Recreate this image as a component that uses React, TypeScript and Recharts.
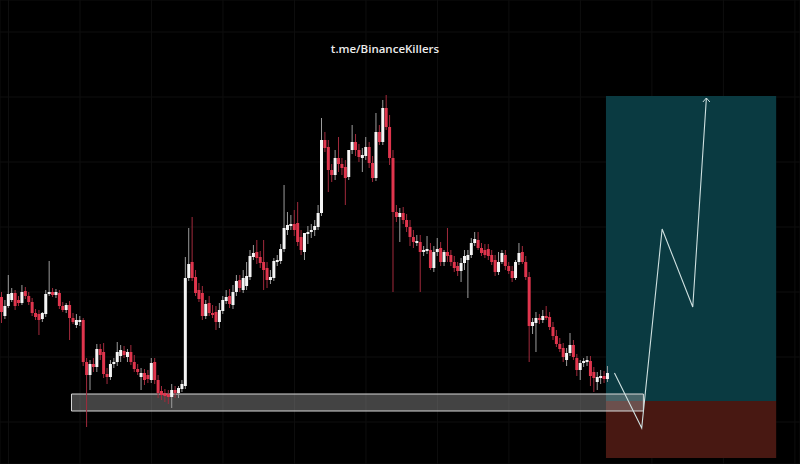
import {
  Bar,
  CartesianGrid,
  ComposedChart,
  Line,
  ReferenceArea,
  XAxis,
  YAxis,
} from "recharts";

// candle prices (arbitrary price units), one entry per bar
const opens = [
  167, 148, 158, 164, 171, 164, 161, 173, 168, 162, 151, 150, 145, 150, 170, 172, 169, 171, 158, 154,
  159, 146, 139, 142, 144, 102, 89, 100, 97, 115, 112, 90, 87, 100, 102, 108, 113, 107, 112, 102,
  95, 87, 91, 89, 84, 102, 84, 73, 71, 70, 67, 74, 71, 75, 78, 186, 202, 187, 174, 171,
  148, 161, 151, 152, 142, 153, 163, 168, 159, 172, 184, 174, 178, 187, 207, 212, 207, 202, 196, 184,
  186, 202, 203, 215, 234, 238, 240, 241, 227, 212, 230, 232, 234, 237, 251, 324, 317, 294, 289, 306,
  300, 297, 287, 314, 322, 314, 306, 308, 317, 301, 286, 332, 322, 356, 337, 306, 252, 247, 251, 244,
  237, 227, 221, 222, 212, 213, 214, 196, 212, 216, 202, 212, 209, 202, 198, 193, 201, 204, 209, 221,
  224, 216, 214, 215, 209, 204, 192, 202, 209, 198, 193, 186, 202, 212, 202, 187, 138, 141, 146, 144,
  148, 147, 137, 128, 120, 116, 104, 111, 119, 106, 94, 101, 102, 103, 92, 82, 86, 88, 85,
];
const highs = [
  172, 164, 189, 176, 174, 168, 179, 177, 172, 166, 155, 154, 152, 174, 203, 176, 175, 174, 162, 161,
  163, 151, 150, 148, 146, 106, 104, 106, 120, 120, 121, 96, 104, 106, 122, 119, 118, 115, 119, 109,
  100, 96, 95, 94, 106, 106, 89, 78, 75, 74, 80, 78, 78, 84, 207, 236, 247, 194, 181, 178,
  164, 168, 159, 158, 161, 168, 174, 175, 179, 189, 189, 194, 202, 214, 219, 224, 213, 224, 202, 194,
  206, 209, 220, 279, 252, 249, 254, 262, 234, 224, 238, 240, 244, 259, 346, 332, 324, 300, 314, 327,
  306, 304, 314, 339, 330, 320, 316, 327, 322, 308, 351, 339, 364, 369, 349, 314, 259, 256, 257, 250,
  244, 234, 229, 229, 218, 228, 221, 218, 226, 222, 214, 236, 214, 208, 202, 206, 214, 214, 226, 232,
  232, 221, 220, 220, 214, 209, 212, 214, 214, 202, 198, 204, 221, 218, 208, 192, 146, 152, 150, 154,
  158, 152, 142, 134, 126, 121, 116, 131, 124, 110, 104, 106, 108, 108, 97, 92, 94, 93, 98,
];
const lows = [
  141, 145, 156, 162, 154, 158, 159, 165, 159, 148, 144, 129, 142, 147, 168, 167, 166, 155, 152, 151,
  124, 140, 136, 138, 98, 37, 74, 92, 92, 104, 86, 80, 84, 96, 98, 102, 106, 102, 99, 92,
  89, 74, 79, 81, 81, 80, 66, 64, 62, 60, 56, 66, 66, 72, 75, 183, 183, 168, 162, 144,
  145, 148, 146, 134, 136, 150, 160, 156, 155, 168, 172, 171, 174, 184, 204, 200, 196, 174, 176, 180,
  183, 198, 200, 212, 229, 234, 228, 218, 209, 204, 220, 226, 228, 234, 248, 312, 272, 282, 284, 292,
  289, 259, 284, 310, 308, 302, 292, 304, 296, 282, 283, 319, 319, 334, 299, 172, 242, 222, 240, 232,
  218, 216, 218, 172, 208, 210, 194, 192, 208, 198, 198, 202, 198, 192, 188, 182, 194, 166, 206, 218,
  214, 208, 206, 204, 199, 188, 189, 200, 194, 190, 182, 184, 199, 200, 184, 102, 130, 112, 140, 141,
  144, 134, 124, 117, 112, 102, 98, 108, 104, 88, 84, 97, 98, 78, 72, 74, 80, 81, 82,
];
const closes = [
  152, 158, 170, 171, 158, 161, 172, 168, 162, 151, 147, 144, 151, 170, 172, 169, 172, 158, 154, 159,
  146, 142, 144, 144, 102, 89, 100, 97, 115, 109, 90, 87, 100, 102, 112, 114, 109, 112, 102, 95,
  92, 91, 84, 85, 101, 84, 71, 69, 68, 67, 74, 71, 76, 80, 186, 200, 186, 171, 165, 148,
  160, 151, 149, 142, 154, 164, 167, 160, 172, 183, 176, 186, 188, 208, 211, 206, 201, 194, 184, 187,
  203, 204, 215, 236, 239, 240, 234, 222, 214, 231, 232, 234, 238, 251, 324, 316, 294, 289, 306, 300,
  296, 286, 314, 322, 314, 307, 309, 317, 301, 286, 332, 322, 356, 337, 306, 252, 247, 251, 244, 237,
  227, 222, 223, 212, 214, 215, 196, 212, 215, 202, 212, 208, 202, 196, 193, 201, 208, 209, 221, 225,
  216, 211, 209, 208, 202, 192, 202, 211, 198, 193, 186, 202, 211, 202, 187, 138, 142, 146, 144, 148,
  146, 137, 128, 120, 115, 107, 111, 119, 107, 94, 101, 103, 104, 88, 86, 87, 88, 85, 91,
];

// slots on the time axis, including the empty space on the right
const slotCount = 235;
const gridSlots = [2, 23, 44, 65, 86, 107, 128, 149, 170, 191, 212, 233];
const gridPrices = [42, 107, 172, 237, 302, 367, 432];

// demand zone
const zoneFrom = 21;
const zoneTo = 188;
const zoneLow = 53;
const zoneHigh = 70;

// long position: entry, stop, target
const positionFrom = 178;
const positionTo = 227;
const entryPrice = 63;
const stopPrice = 6;
const targetPrice = 368;

// projected path
const projSlots = [180, 188, 194, 203, 207];
const projPrices = [91, 36, 235, 157, 366];

const data = Array.from({ length: slotCount }, (_, i) => {
  const has = i < closes.length;
  const p = projSlots.indexOf(i);
  return {
    i,
    range: has ? [lows[i], highs[i]] : null,
    o: has ? opens[i] : null,
    h: has ? highs[i] : null,
    l: has ? lows[i] : null,
    c: has ? closes[i] : null,
    proj: p >= 0 ? projPrices[p] : null,
  };
});

function Candle(props: any) {
  const { x, y, width, height, payload } = props;
  if (payload == null || payload.o == null || height == null) return <g />;
  const { o, h, l, c } = payload;
  const top = height < 0 ? y + height : y;
  const span = Math.abs(height);
  const k = span / (h - l || 1);
  const py = (v: number) => top + (h - v) * k;
  const up = c >= o;
  const cx = x + width / 2;
  const bodyTop = py(Math.max(o, c));
  const bodyH = Math.max(1, Math.abs(py(o) - py(c)));
  return (
    <g>
      <line
        x1={cx}
        x2={cx}
        y1={top}
        y2={top + span}
        stroke={up ? "#9c9c9c" : "#a22a3c"}
        strokeWidth={1}
      />
      <rect x={x} y={bodyTop} width={width} height={bodyH} fill={up ? "#f5f5f5" : "#e0354d"} />
    </g>
  );
}

const lastProj = projSlots[projSlots.length - 1];

function ArrowDot(props: any) {
  const { cx, cy, payload, index } = props;
  if (!payload || payload.i !== lastProj || cx == null) return <g key={`d${index}`} />;
  return (
    <path
      key={`d${index}`}
      d={`M${cx - 3.5},${cy + 4} L${cx},${cy} L${cx + 3.5},${cy + 4}`}
      stroke="#cfe0e0"
      strokeWidth={1}
      fill="none"
    />
  );
}

export default function App() {
  return (
    <div
      style={{
        position: "absolute",
        left: 0,
        top: 0,
        width: 800,
        height: 464,
        background: "#000",
        overflow: "hidden",
      }}
    >
      <ComposedChart
        width={800}
        height={464}
        data={data}
        margin={{ top: 0, right: 0, left: 0, bottom: 0 }}
        barCategoryGap={0}
      >
        <CartesianGrid stroke="#0e0e0e" />
        <XAxis dataKey="i" hide ticks={gridSlots} interval={0} />
        <YAxis hide type="number" domain={[0, 464]} ticks={gridPrices} allowDataOverflow />
        <ReferenceArea
          x1={positionFrom}
          x2={positionTo}
          y1={entryPrice}
          y2={targetPrice}
          fill="#0b3f46"
          fillOpacity={0.92}
          stroke="none"
        />
        <ReferenceArea
          x1={positionFrom}
          x2={positionTo}
          y1={stopPrice}
          y2={entryPrice}
          fill="#4d1913"
          fillOpacity={0.94}
          stroke="none"
        />
        <Bar dataKey="range" barSize={3} shape={Candle} isAnimationActive={false} />
        <ReferenceArea
          x1={zoneFrom}
          x2={zoneTo}
          y1={zoneLow}
          y2={zoneHigh}
          fill="#a0a0a0"
          fillOpacity={0.42}
          stroke="#d8d8d8"
          strokeWidth={1}
        />
        <Line
          dataKey="proj"
          connectNulls
          stroke="#cfe0e0"
          strokeWidth={1.1}
          dot={ArrowDot}
          activeDot={false}
          isAnimationActive={false}
        />
      </ComposedChart>
      <div
        style={{
          position: "absolute",
          left: 0,
          top: 41,
          width: 770,
          textAlign: "center",
          color: "#ececec",
          fontFamily: "'Open Sans', sans-serif",
          fontWeight: 600,
          fontSize: 11.5,
        }}
      >
        t.me/BinanceKillers
      </div>
    </div>
  );
}
